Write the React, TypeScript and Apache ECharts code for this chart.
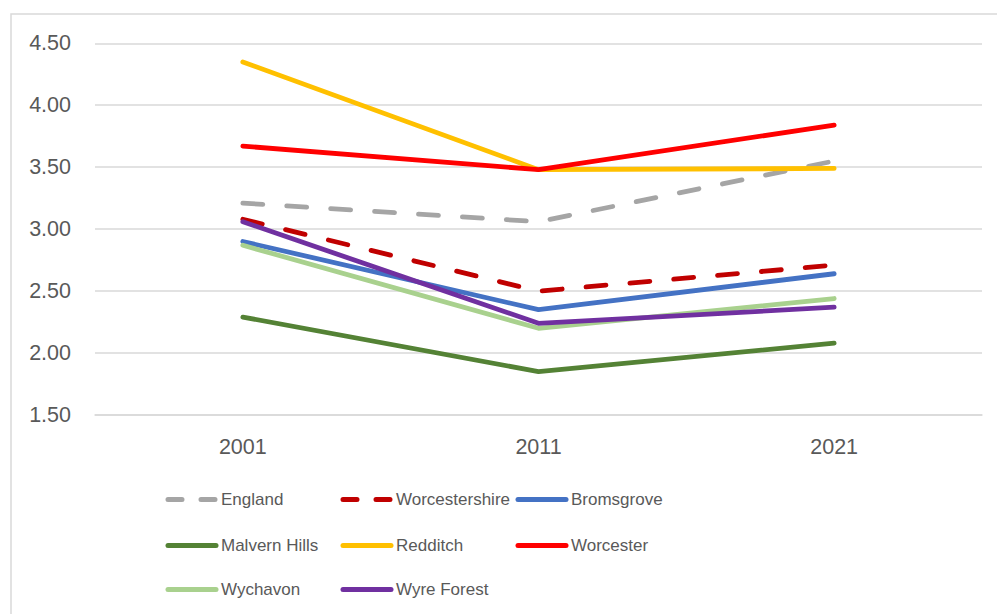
import React, { useEffect, useRef } from "react";
import * as echarts from "echarts";

const years = ["2001", "2011", "2021"];
const seriesNames = [
  "England",
  "Worcestershire",
  "Bromsgrove",
  "Malvern Hills",
  "Redditch",
  "Worcester",
  "Wychavon",
  "Wyre Forest",
];
const england = [3.21, 3.06, 3.55];
const worcestershire = [3.08, 2.5, 2.71];
const bromsgrove = [2.9, 2.35, 2.64];
const malvernHills = [2.29, 1.85, 2.08];
const redditch = [4.35, 3.48, 3.49];
const worcester = [3.67, 3.48, 3.84];
const wychavon = [2.87, 2.2, 2.44];
const wyreForest = [3.06, 2.24, 2.37];
const yTicks = { min: 1.5, max: 4.5, interval: 0.5 };

const values = [england, worcestershire, bromsgrove, malvernHills, redditch, worcester, wychavon, wyreForest];
const colors = ["#A5A5A5", "#C00000", "#4472C4", "#548235", "#FFC000", "#FF0000", "#A9D18E", "#7030A0"];
const dashed = [true, true, false, false, false, false, false, false];

const FONT = "'Liberation Sans', Arial, sans-serif";
const TEXT = "#595959";

export default function App() {
  const ref = useRef<HTMLDivElement>(null);
  useEffect(() => {
    if (!ref.current) return;
    const chart = echarts.init(ref.current, null, { renderer: "svg" });
    const colLeft = [165.5, 340.5, 515.5];
    const rowCenter = [501, 547, 591];
    const legends = seriesNames.map((name, i) => ({
      data: [
        {
          name,
          lineStyle: {
            width: 5,
            cap: "round",
            color: colors[i],
            type: dashed[i] ? [14, 19] : "solid",
          },
        },
      ],
      left: colLeft[i % 3],
      top: rowCenter[Math.floor(i / 3)] - 10,
      padding: 0,
      itemWidth: 48,
      itemHeight: 20,
      itemGap: 0,
      selectedMode: false,
      itemStyle: { opacity: 0 },
      lineStyle: { width: 5, cap: "round" },
      textStyle: { color: TEXT, fontSize: 17, fontFamily: FONT },
    }));
    chart.setOption({
      animation: false,
      backgroundColor: "#ffffff",
      textStyle: { fontFamily: FONT },
      graphic: [
        {
          type: "rect",
          shape: { x: 11, y: 14, width: 1000, height: 700 },
          style: { fill: "none", stroke: "#D9D9D9", lineWidth: 1.5 },
          silent: true,
        },
      ],
      grid: { left: 95, right: 15, top: 43.3, bottom: 199, containLabel: false },
      legend: legends,
      xAxis: {
        type: "category",
        data: years,
        boundaryGap: true,
        axisLine: { show: true, lineStyle: { color: "#D9D9D9", width: 1.5 } },
        axisTick: { show: false },
        axisLabel: { color: TEXT, fontSize: 21.5, fontFamily: FONT, margin: 21 },
      },
      yAxis: {
        type: "value",
        min: yTicks.min,
        max: yTicks.max,
        interval: yTicks.interval,
        axisLine: { show: false },
        axisTick: { show: false },
        splitLine: { lineStyle: { color: "#D9D9D9", width: 1.5 } },
        axisLabel: {
          color: TEXT,
          fontSize: 21.5,
          fontFamily: FONT,
          margin: 24,
          formatter: (v: number) => v.toFixed(2),
        },
      },
      series: seriesNames.map((name, i) => ({
        name,
        type: "line",
        data: values[i],
        symbol: "none",
        color: colors[i],
        lineStyle: {
          color: colors[i],
          width: 4.8,
          cap: "round",
          join: "round",
          type: dashed[i] ? [20, 24] : "solid",
        },
      })),
    });
    return () => chart.dispose();
  }, []);
  return (
    <div
      ref={ref}
      style={{ position: "absolute", left: 0, top: 0, width: 997, height: 614 }}
    />
  );
}
